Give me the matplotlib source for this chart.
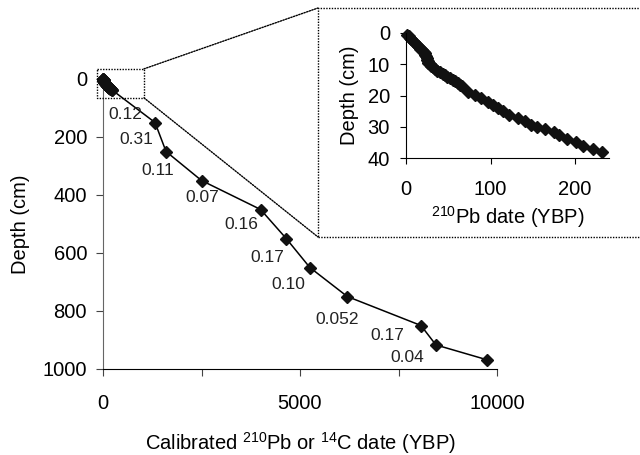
import matplotlib
matplotlib.use("Agg")
import matplotlib.pyplot as plt
from matplotlib.patches import Rectangle, ConnectionPatch

plt.rcParams['font.family'] = ['Liberation Sans', 'DejaVu Sans']
plt.rcParams['mathtext.fontset'] = 'custom'
plt.rcParams['mathtext.rm'] = 'Liberation Sans'
plt.rcParams['mathtext.it'] = 'Liberation Sans:italic'
plt.rcParams['mathtext.bf'] = 'Liberation Sans:bold'

# 210Pb-dated upper core (inset data): date (YBP), depth (cm)
pb_dates = [1, 3, 5, 6.5, 8, 10, 12, 14, 15.5, 17, 19, 21, 22, 22.5, 23.5, 24.5,
            25, 26, 26.5, 28, 30, 32, 34, 37, 40, 43.5, 46, 49, 52, 55, 58, 61,
            63.5, 66, 73, 81, 89, 97, 103, 108.5, 114.5, 122, 132, 141, 148,
            154.5, 164.5, 174.5, 181, 190, 201.5, 209.5, 221, 232]
pb_depths = [0.5, 1, 1.5, 2, 2.5, 3, 3.5, 4, 4.5, 5, 5.5, 6, 6.5, 7, 7.5, 8,
             8.5, 9, 9.5, 10, 10.5, 11, 11.5, 12, 12.5, 13, 13.5, 14, 14.5, 15,
             15.5, 16, 16.5, 17, 18.8, 19.9, 20.9, 22.0, 23.1, 23.9, 25.0, 26.1,
             27.1, 28.2, 29.3, 30.0, 30.8, 31.8, 32.7, 33.8, 35.0, 36.1, 37.2, 38.2]

# Calibrated 14C dates deeper in the core
c14_dates = [1320, 1600, 2500, 4000, 4650, 5250, 6200, 8070, 8450, 9740]
c14_depths = [150, 250, 350, 450, 550, 650, 750, 850, 917, 968]

# Sedimentation-rate labels
rate_labels = ['0.12', '0.31', '0.11', '0.07', '0.16', '0.17', '0.10', '0.052', '0.17', '0.04']
rate_label_x = [560, 840, 1400, 2510, 3500, 4160, 4700, 5940, 7210, 7720]
rate_label_y = [124, 210, 317, 410, 503, 614, 710, 828, 886, 959]

main_ticks_x = [0, 2500, 5000, 7500, 10000]
main_ticklabels_x = ['0', '', '5000', '', '10000']
main_ticks_y = [0, 200, 400, 600, 800, 1000]
inset_ticks_x = [0, 100, 200]
inset_ticks_y = [0, 10, 20, 30, 40]

W, H = 640, 455
FS = 14.5
fig = plt.figure(figsize=(6.4, 4.55), dpi=100)

# ---- main axes ----
ax = fig.add_axes([103 / W, 1 - 369 / H, 394 / W, 290 / H])
all_dates = pb_dates + c14_dates
all_depths = pb_depths + c14_depths
ax.plot(all_dates, all_depths, color='black', lw=1.1, marker='D', ms=6.5,
        mfc='#111111', mec='#111111', zorder=3, clip_on=False)
ax.set_xlim(0, 10000)
ax.set_ylim(1000, 0)
ax.set_xticks(main_ticks_x)
ax.set_xticklabels(main_ticklabels_x)
ax.set_yticks(main_ticks_y)
ax.spines['top'].set_visible(False)
ax.spines['right'].set_visible(False)
ax.spines['left'].set_color('#666666')
ax.tick_params(direction='out', length=5, labelsize=FS, pad=6.5, color='#444444')
ax.tick_params(axis='x', pad=13)
ax.set_xlabel(r'Calibrated $^{210}$Pb or $^{14}$C date (YBP)', fontsize=FS, labelpad=12)
ax.set_ylabel('Depth (cm)', fontsize=FS, labelpad=9)
ax.patch.set_alpha(0)

for t, x, y in zip(rate_labels, rate_label_x, rate_label_y):
    ax.text(x, y, t, ha='center', va='center', fontsize=12.5, color='#222222')

# dotted zoom box in main axes
ax.add_patch(Rectangle((-150, -35), 1190, 100, fill=False, ls=(0, (1, 1)),
                       lw=1, ec='black', clip_on=False, zorder=4))

# ---- inset ----
fx0, fy0 = 318 / W, 1 - 237 / H
fig.add_artist(Rectangle((fx0, fy0), 1.05 - fx0, (237 - 8) / H, fill=False,
                         ls=(0, (1, 1)), lw=1, ec='black',
                         transform=fig.transFigure, clip_on=False))
for ya, yb in [(-35, 1 - 8 / H), (65, fy0)]:
    con = ConnectionPatch(xyA=(1040, ya), coordsA=ax.transData,
                          xyB=(fx0, yb), coordsB=fig.transFigure,
                          ls=(0, (1, 1)), lw=1, color='black')
    fig.add_artist(con)

axi = fig.add_axes([406 / W, 1 - 158 / H, 203 / W, 125 / H])
axi.plot(pb_dates, pb_depths, color='black', lw=1, marker='D', ms=6.5,
         mfc='#111111', mec='#111111', clip_on=False)
axi.set_xlim(0, 240)
axi.set_ylim(40, 0)
axi.set_xticks(inset_ticks_x)
axi.set_yticks(inset_ticks_y)
axi.spines['top'].set_visible(False)
axi.spines['right'].set_visible(False)
axi.tick_params(direction='out', length=4.5, labelsize=FS, pad=7)
axi.tick_params(axis='x', pad=11)
axi.set_xlabel(r'$^{210}$Pb date (YBP)', fontsize=FS, labelpad=4)
axi.set_ylabel('Depth (cm)', fontsize=FS, labelpad=6)
axi.patch.set_alpha(0)

fig.savefig('out.png', dpi=100)
